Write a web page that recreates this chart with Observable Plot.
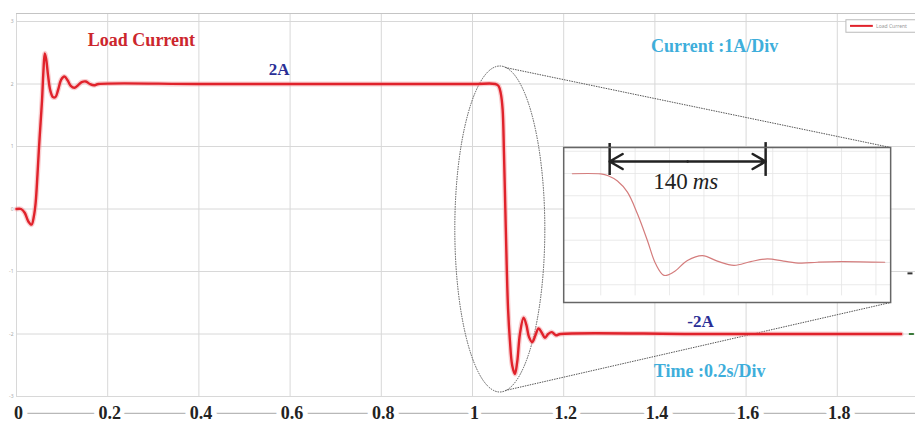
<!DOCTYPE html>
<html>
<head>
<meta charset="utf-8">
<script src="https://cdn.jsdelivr.net/npm/d3@7"></script>
<script src="https://cdn.jsdelivr.net/npm/@observablehq/plot@0.6"></script>
<style>
  html, body { margin: 0; padding: 0; background: #fff; }
  #chart { width: 915px; height: 427px; overflow: hidden; }
</style>
</head>
<body>
<div id="chart"></div>
<script>
// ---- main series: load current (A) vs time (s) ----
const timeS = [0, 0.01, 0.018, 0.026, 0.033, 0.038, 0.042, 0.046, 0.049, 0.053, 0.056, 0.059, 0.062, 0.065, 0.069, 0.074, 0.08, 0.0855, 0.091, 0.098, 0.105, 0.112, 0.119, 0.127, 0.135, 0.143, 0.152, 0.161, 0.17, 0.18, 0.4, 0.7, 1.0, 1.05,
  1.057, 1.062, 1.066, 1.069, 1.072, 1.075, 1.078, 1.082, 1.087, 1.093, 1.098, 1.104, 1.112, 1.118, 1.124, 1.131, 1.138, 1.145, 1.152, 1.159, 1.166, 1.174, 1.183, 1.193, 1.5, 1.94];
const currentA = [0, 0, -0.06, -0.2, -0.25, -0.12, 0.1, 0.55, 0.94, 1.4, 1.74, 2.2, 2.49, 2.4, 2.15, 1.9, 1.79, 1.79, 1.9, 2.07, 2.12, 2.06, 1.97, 1.94, 1.98, 2.03, 2.04, 2.0, 1.98, 2.0, 2.0, 2.0, 2.0, 2.0,
  1.97, 1.85, 1.6, 0.9, 0.0, -0.9, -1.6, -2.1, -2.5, -2.64, -2.45, -2.0, -1.74, -1.85, -2.05, -2.13, -2.02, -1.91, -1.98, -2.06, -2.0, -1.97, -2.02, -2.0, -2.0, -2.0];

// ---- axes / grid ----
const xTicks = [0, 0.2, 0.4, 0.6, 0.8, 1, 1.2, 1.4, 1.6, 1.8];
const xTickLabels = ["0", "0.2", "0.4", "0.6", "0.8", "1", "1.2", "1.4", "1.6", "1.8"];
const yGrid = [-3, -2, -1, 0, 1, 2, 3];
const yTickLabels = ["-3", "-2", "-1", "0", "1", "2", "3"];

// ---- inset (zoomed transient): time in ms, current in A ----
const insetMs = [5.3, 30.0, 36.5, 44.6, 53.3, 62.0, 70.7, 77.9, 85.2, 93.6, 105.6, 118.7, 131.7, 146.2, 160.8, 175.3, 189.5, 204.3, 218.9, 239.2, 277.6];
const insetA  = [1.99, 1.98, 1.9, 1.66, 1.16, 0.19, -1.01, -2.06, -2.58, -2.43, -1.91, -1.69, -1.94, -2.13, -1.96, -1.84, -1.94, -2.03, -1.99, -1.96, -1.99];
const insetGridMs = [30, 60, 90, 120, 150, 180, 210, 240, 270];
const insetGridA = [-3, -2, -1, 0, 1, 2, 3];
const spanStartMs = 37.8, spanEndMs = 173.8; // "140 ms" marker

// ---- annotations ----
const labels = [
  {t: 0.274, v: 2.70, text: "Load Current", color: "#cc262d", size: 18},
  {t: 0.576, v: 2.23, text: "2A", color: "#2a2f96", size: 17},
  {t: 1.531, v: 2.60, text: "Current :1A/Div", color: "#3eaedb", size: 18},
  {t: 1.50, v: -1.80, text: "-2A", color: "#2a2f96", size: 17},
  {t: 1.52, v: -2.59, text: "Time :0.2s/Div", color: "#3eaedb", size: 18}
];

const serif = "'Liberation Serif', 'Times New Roman', serif";
const xMax = 1.9715, yMin = -3.496, yMax = 3.336;
const frameTopA = 3.128, axisLineA = -3.27;
const zoomEllipse = {t: 1.061, v: -0.328, rt: 0.0987, rv: 2.608};
const insetBox = {t0: 1.2, t1: 1.917, vTop: 0.984, vBottom: -1.496};
const zoomLines = [
  {t1: 1.072, v1: 2.264, t2: insetBox.t1, v2: insetBox.vTop},
  {t1: 1.072, v1: -2.904, t2: insetBox.t1, v2: insetBox.vBottom}
];

const mainData = timeS.map((t, i) => ({t, a: currentA[i]}));
const tickData = xTicks.map((t, i) => ({t, label: xTickLabels[i]}));
const yLabData = yGrid.map((v, i) => ({v, label: yTickLabels[i]}));
const insetData = insetMs.map((ms, i) => ({ms, a: insetA[i]}));

function ellipseMark(index, scales) {
  const {x, y} = scales;
  const e = zoomEllipse;
  return d3.create("svg:ellipse")
    .attr("cx", x(e.t)).attr("cy", y(e.v))
    .attr("rx", x(e.t + e.rt) - x(e.t))
    .attr("ry", y(e.v - e.rv) - y(e.v))
    .attr("fill", "none").attr("stroke", "#555")
    .attr("stroke-width", 1).attr("stroke-dasharray", "1.5,1")
    .node();
}

function insetMark(index, scales) {
  const {x, y} = scales;
  const x0 = x(insetBox.t0), x1 = x(insetBox.t1);
  const y0 = y(insetBox.vTop), y1 = y(insetBox.vBottom);
  const w = x1 - x0, h = y1 - y0;
  const mid = (spanStartMs + spanEndMs) / 2;
  const inset = Plot.plot({
    width: w, height: h, margin: 0,
    x: {domain: [-2.27, 282.8], axis: null},
    y: {domain: [-3.8, 3.17], axis: null},
    marks: [
      Plot.frame({fill: "white", stroke: "none"}),
      Plot.ruleX(insetGridMs, {stroke: "#e4e4e4", strokeWidth: 0.8, y1: -3.5, y2: 3.17}),
      Plot.ruleY(insetGridA, {stroke: "#e4e4e4", strokeWidth: 0.8}),
      Plot.line(insetData, {x: "ms", y: "a", stroke: "#d47c7c", strokeWidth: 1.2, curve: "catmull-rom"}),
      Plot.ruleX([{ms: spanStartMs, a1: 3.35, a2: 1.91}, {ms: spanEndMs, a1: 3.39, a2: 1.87}],
        {x: "ms", y1: "a1", y2: "a2", stroke: "#222", strokeWidth: 2.5}),
      Plot.arrow([{m: mid, e: spanEndMs}, {m: mid, e: spanStartMs}],
        {x1: "m", x2: "e", y1: 2.54, y2: 2.54, stroke: "#222", strokeWidth: 2.5, headLength: 9}),
      Plot.text(["140"], {x: 105.8, y: 1.64, text: d => d, textAnchor: "end", fontFamily: serif, fontSize: 23, fill: "#222"}),
      Plot.text(["ms"], {x: 110.2, y: 1.64, text: d => d, textAnchor: "start", fontFamily: serif, fontSize: 23, fontStyle: "italic", fill: "#222"}),
      Plot.frame({stroke: "#666", strokeWidth: 1.5})
    ]
  });
  const g = d3.create("svg:g").attr("transform", `translate(${x0},${y0})`);
  Array.from(inset.childNodes).forEach(n => { if (n.nodeName.toLowerCase() !== "style") g.node().appendChild(n); });
  return g.node();
}

const chart = Plot.plot({
  width: 915, height: 427,
  marginTop: 0, marginBottom: 0, marginLeft: 16, marginRight: 0,
  x: {domain: [0, xMax], axis: null},
  y: {domain: [yMin, yMax], axis: null},
  style: {background: "white", overflow: "hidden"},
  marks: [
    Plot.ruleX(xTicks, {y1: -3, y2: frameTopA, stroke: "#d8d8d8", strokeWidth: 1}),
    Plot.ruleY(yGrid, {x1: 0, x2: xMax, stroke: "#d8d8d8", strokeWidth: 1}),
    Plot.ruleY([frameTopA], {x1: 0, x2: xMax, stroke: "#c4c4c4", strokeWidth: 1.2}),
    Plot.ruleY([axisLineA], {x1: 0, x2: xMax, stroke: "#b8b8b8", strokeWidth: 1.2}),
    Plot.text(yLabData, {x: 0, y: "v", text: "label", dx: -3, textAnchor: "end", fontSize: 5, fill: "#aaa"}),
    // tick labels (white knock-out behind, then dark text)
    Plot.text(tickData, {x: "t", y: axisLineA, text: "label", dx: 2, fontFamily: serif, fontWeight: "bold", fontSize: 18, fill: "white", stroke: "white", strokeWidth: 10}),
    Plot.text(tickData, {x: "t", y: axisLineA, text: "label", dx: 2, fontFamily: serif, fontWeight: "bold", fontSize: 18, fill: "#222"}),
    // zoom connectors + ellipse
    Plot.link(zoomLines, {x1: "t1", y1: "v1", x2: "t2", y2: "v2", stroke: "#555", strokeWidth: 1, strokeDasharray: "1.5,1"}),
    ellipseMark,
    // main curve
    Plot.line(mainData, {x: "t", y: "a", stroke: "#f4a0a4", strokeWidth: 5, strokeOpacity: 0.5, curve: "catmull-rom"}),
    Plot.line(mainData, {x: "t", y: "a", stroke: "#e0222b", strokeWidth: 2.4, curve: "catmull-rom"}),
    // labels
    Plot.text(labels, {x: "t", y: "v", text: "text", fill: "color", fontSize: d => d.size, fontFamily: serif, fontWeight: "bold"}),
    // legend box
    Plot.rect([0], {x1: 1.82, x2: 1.98, y1: 2.82, y2: 3.02, fill: "white", stroke: "#bbb", strokeWidth: 1}),
    Plot.ruleY([2.93], {x1: 1.829, x2: 1.879, stroke: "#e0222b", strokeWidth: 2}),
    Plot.text(["Load Current"], {x: 1.885, y: 2.92, text: d => d, textAnchor: "start", fontSize: 5, fill: "#999"}),
    // right-edge marks
    Plot.ruleY([-1.03], {x1: 1.955, x2: 1.966, stroke: "#333", strokeWidth: 2}),
    Plot.ruleY([-2.0], {x1: 1.958, x2: 1.969, stroke: "#3a7a3a", strokeWidth: 2}),
    // inset
    insetMark
  ]
});
document.getElementById("chart").appendChild(chart);
</script>
</body>
</html>
